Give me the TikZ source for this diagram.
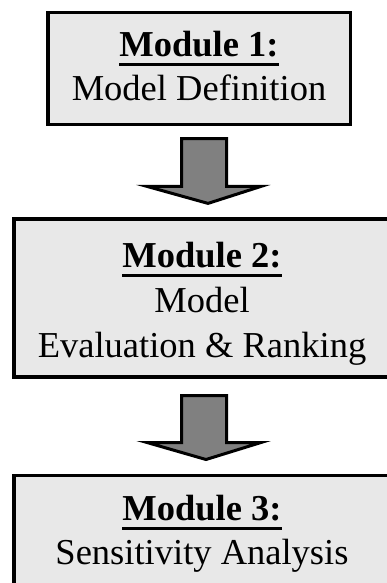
\documentclass[tikz,border=0pt]{standalone}
\usepackage{fontspec}
\setmainfont{Liberation Serif}
\usetikzlibrary{calc}
\definecolor{boxgray}{RGB}{232,232,232}
\definecolor{arrowgray}{RGB}{128,128,128}
\newsavebox{\headbox}
\newcommand{\modhead}[1]{\sbox{\headbox}{\textbf{#1}}\rlap{\vrule width\wd\headbox height -6.5pt depth 9.5pt}\usebox{\headbox}}
\newcommand{\modtext}[2]{\raisebox{#1}[\height][\depth]{\begin{tabular}{@{}c@{}}#2\end{tabular}}}
\tikzset{
  modbox/.style={draw=black, line width=3.5pt, fill=boxgray, inner sep=0pt, outer sep=0pt,
    font=\fontsize{36.5}{43.5}\selectfont},
  blockarrow/.style={draw=black, line width=3pt, fill=arrowgray, line join=miter}
}

\begin{document}
\begin{tikzpicture}[x=1pt,y=-1pt]
        \path[use as bounding box] (0,0) rectangle (387,583);
        \clip (0,0) rectangle (387,583);

        %%MODULES
        % Module 1
        \node[modbox, minimum width=302.5pt, minimum height=112pt] (m1) at (199,68.5) {\modtext{-1.5pt}{\modhead{Module 1:}\\Model Definition}};

        % Module 2
        \node[modbox, minimum width=376pt, minimum height=158pt, font=\fontsize{36.5}{45}\selectfont] (m2) at (202,298) {\modtext{-5pt}{\modhead{Module 2:}\\Model\\Evaluation \& Ranking}};

        % Module 3 (runs off the page)
        \node[modbox, minimum width=376pt, minimum height=112pt] (m3) at (202,531.5) {\modtext{-2.5pt}{\modhead{Module 3:}\\Sensitivity Analysis}};

        %%ARROWS
        % Module 1 -> Module 2
        \draw[blockarrow] let \p1=($(m1.south)+(5,14)$), \p2=($(m2.north)+(6,-15.6)$) in
            (\x1-22.5pt,\y1) -- (\x1+22.5pt,\y1) -- (\x1+22.5pt,\y2+17pt) -- (\x1+57pt,\y2+17pt)
            -- (\x2,\y2) -- (\x1-57pt,\y2+17pt) -- (\x1-22.5pt,\y2+17pt) -- cycle;

        % Module 2 -> Module 3
        \draw[blockarrow] let \p1=($(m2.south)+(2,18.5)$), \p2=($(m3.north)+(4,-16)$) in
            (\x1-22.5pt,\y1) -- (\x1+22.5pt,\y1) -- (\x1+22.5pt,\y2+17pt) -- (\x1+57pt,\y2+17pt)
            -- (\x2,\y2) -- (\x1-57pt,\y2+17pt) -- (\x1-22.5pt,\y2+17pt) -- cycle;
\end{tikzpicture}
\end{document}
